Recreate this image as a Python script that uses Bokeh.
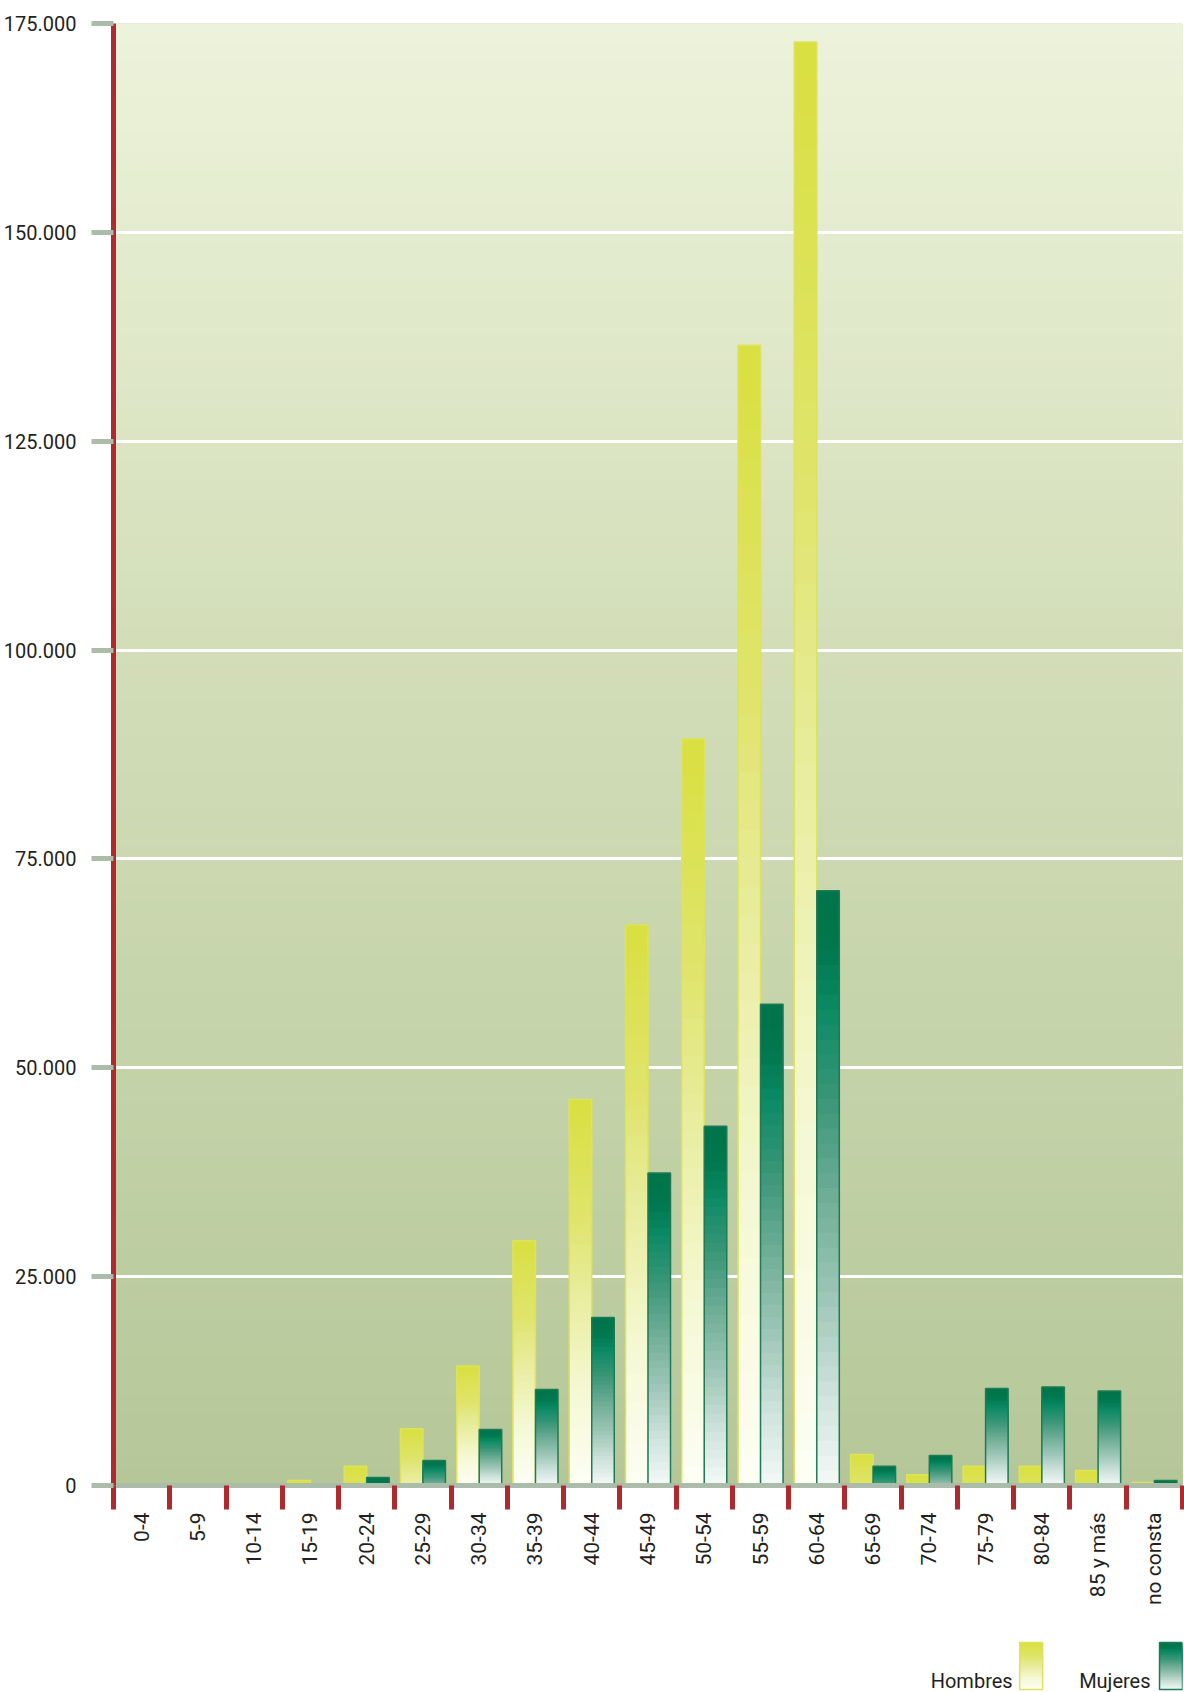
import math
from bokeh.plotting import figure
from bokeh.models import Range1d, FixedTicker, ColumnDataSource
from bokeh.layouts import column
from bokeh.embed import file_html
from bokeh.resources import INLINE
from bokeh.core.properties import value

# ---------------- data ----------------
groups = ["0-4", "5-9", "10-14", "15-19", "20-24", "25-29", "30-34", "35-39",
          "40-44", "45-49", "50-54", "55-59", "60-64", "65-69", "70-74",
          "75-79", "80-84", "85 y más", "no consta"]
hombres = [0, 0, 0, 600, 2300, 6800, 14300, 29300, 46200, 67100, 89400,
           136500, 172800, 3700, 1300, 2300, 2300, 1800, 350]
mujeres = [0, 0, 0, 0, 950, 3000, 6700, 11500, 20100, 37400, 43000,
           57600, 71200, 2300, 3600, 11600, 11800, 11300, 600]
series_names = ["Hombres", "Mujeres"]
y_ticks = [0, 25000, 50000, 75000, 100000, 125000, 150000, 175000]
y_tick_labels = ["0", "25.000", "50.000", "75.000", "100.000", "125.000",
                 "150.000", "175.000"]

# ---------------- style ----------------
FONT = "Roboto"
TXT = "#231f20"
RED = "#ae2a2f"
GRAY = "#abbcab"
YEL_STOPS = [(0.0, "#d9e03f"), (0.3, "#dfe46a"), (0.5, "#e8ec9c"),
             (0.75, "#f5f8d2"), (1.0, "#fdfef6")]
GRN_STOPS = [(0.0, "#00734a"), (0.1, "#00784f"), (0.2, "#0b8a64"),
             (0.35, "#3a9677"), (0.5, "#6aab94"), (0.7, "#a3c9bb"),
             (0.85, "#cfe3dc"), (1.0, "#f4f9f7")]
BG_STOPS = [(0.0, "#b5c799"), (0.6, "#d4dfba"), (1.0, "#edf3db")]


def hex2rgb(h):
    h = h.lstrip("#")
    return [int(h[i:i + 2], 16) for i in (0, 2, 4)]


def interp(stops, t):
    t = min(max(t, 0.0), 1.0)
    for (t0, c0), (t1, c1) in zip(stops, stops[1:]):
        if t <= t1:
            f = 0.0 if t1 == t0 else (t - t0) / (t1 - t0)
            a, b = hex2rgb(c0), hex2rgb(c1)
            return "#%02x%02x%02x" % tuple(round(a[j] + (b[j] - a[j]) * f) for j in range(3))
    return stops[-1][1]


n_groups = len(groups)
YMAX = y_ticks[-1]

p = figure(width=1184, height=1608, x_range=Range1d(0, n_groups),
           y_range=Range1d(0, YMAX), output_backend="svg",
           toolbar_location=None, min_border_left=112, min_border_right=2,
           min_border_top=23, min_border_bottom=123)
p.outline_line_color = None
p.border_fill_color = "white"
p.background_fill_color = "#d0dcb5"

# background gradient
NB = 80
bg = dict(left=[], right=[], bottom=[], top=[], color=[])
for k in range(NB):
    top = YMAX * (NB - k) / NB
    mid = YMAX * (NB - k - 0.5) / NB
    bg["left"].append(0); bg["right"].append(n_groups)
    bg["bottom"].append(0); bg["top"].append(top)
    bg["color"].append(interp(BG_STOPS, mid / YMAX))
p.quad(left="left", right="right", bottom="bottom", top="top",
       fill_color="color", line_color=None, source=ColumnDataSource(bg),
       level="image")

# grid
p.xgrid.visible = False
p.ygrid.ticker = FixedTicker(ticks=y_ticks[1:-1])
p.ygrid.grid_line_color = "white"
p.ygrid.grid_line_width = 3

# bars with gradient
N = 40
series = [(hombres, -0.2, YEL_STOPS, 12000, "#dde35a"),
          (mujeres, 0.2, GRN_STOPS, 5400, "#1e7b55")]
for vals, off, stops, h0, outline in series:
    d = dict(x=[], top=[], color=[])
    o = dict(x=[], top=[])
    for i, v in enumerate(vals):
        if v <= 0:
            continue
        scale = max(v, h0)
        for k in range(N):
            top = v * (N - k) / N
            mid = v * (N - k - 0.5) / N
            d["x"].append(i + 0.5 + off)
            d["top"].append(top)
            d["color"].append(interp(stops, (v - mid) / scale))
        o["x"].append(i + 0.5 + off)
        o["top"].append(v)
    p.vbar(x="x", top="top", bottom=0, width=0.4, fill_color="color",
           line_color=None, source=ColumnDataSource(d))
    p.vbar(x="x", top="top", bottom=0, width=0.4, fill_color=None,
           line_color=outline, line_width=1.5, source=ColumnDataSource(o))

# y axis
ya = p.yaxis[0]
ya.ticker = FixedTicker(ticks=y_ticks)
ya.major_label_overrides = {t: l for t, l in zip(y_ticks, y_tick_labels)}
ya.axis_line_color = RED
ya.axis_line_width = 5
ya.major_tick_line_color = GRAY
ya.major_tick_line_width = 5
ya.major_tick_out = 22
ya.major_tick_in = 0
ya.minor_tick_line_color = None
ya.major_label_standoff = 15
ya.major_label_text_font = FONT
ya.major_label_text_font_size = "20px"
ya.major_label_text_font_style = "normal"
ya.major_label_text_color = TXT

# x axis: red ticks at group boundaries, labels at centres
xa = p.xaxis[0]
centers = [i + 0.5 for i in range(n_groups)]
xa.ticker = FixedTicker(ticks=centers, minor_ticks=list(range(n_groups + 1)))
xa.major_label_overrides = {c: g for c, g in zip(centers, groups)}
xa.axis_line_color = GRAY
xa.axis_line_width = 5
xa.major_tick_line_color = None
xa.major_tick_out = 24
xa.major_tick_in = 0
xa.minor_tick_line_color = RED
xa.minor_tick_line_width = 5
xa.minor_tick_out = 24
xa.minor_tick_in = 0
xa.major_label_orientation = math.pi / 2
xa.major_label_standoff = 3
xa.major_label_text_font = FONT
xa.major_label_text_font_size = "21px"
xa.major_label_text_font_style = "normal"
xa.major_label_text_color = TXT

# ---------------- legend ----------------
# x range expressed in page pixels (frame aligned with the main plot frame)
lg = figure(width=1184, height=84, x_range=Range1d(112, 1182), y_range=Range1d(0, 84),
            output_backend="svg", toolbar_location=None, min_border=0,
            min_border_left=112, min_border_right=2)
lg.axis.visible = False
lg.grid.visible = False
lg.outline_line_color = None
lg.border_fill_color = "white"
lg.background_fill_color = "white"

legend_items = [(series_names[0], 1012, 1019, YEL_STOPS, "#dde35a"),
                (series_names[1], 1150, 1159, GRN_STOPS, "#1e7b55")]
for name, tx, sx, stops, outline in legend_items:
    lg.text(x=[tx], y=[12], text=[name], text_align="right",
            text_baseline="alphabetic", text_font=value(FONT),
            text_font_size="20px", text_font_style="normal", text_color=TXT)
    sw = dict(left=[], right=[], bottom=[], top=[], color=[])
    NS = 30
    b0, b1 = 3, 50
    for k in range(NS):
        sw["left"].append(sx); sw["right"].append(sx + 23)
        sw["bottom"].append(b0)
        sw["top"].append(b0 + (b1 - b0) * (NS - k) / NS)
        sw["color"].append(interp(stops, (k + 0.5) / NS))
    lg.quad(left="left", right="right", bottom="bottom", top="top",
            fill_color="color", line_color=None, source=ColumnDataSource(sw))
    lg.quad(left=[sx], right=[sx + 23], bottom=[b0], top=[b1],
            fill_color=None, line_color=outline, line_width=1.5)

layout = column(p, lg, spacing=0)
open("out.html", "w").write(file_html(layout, INLINE))
